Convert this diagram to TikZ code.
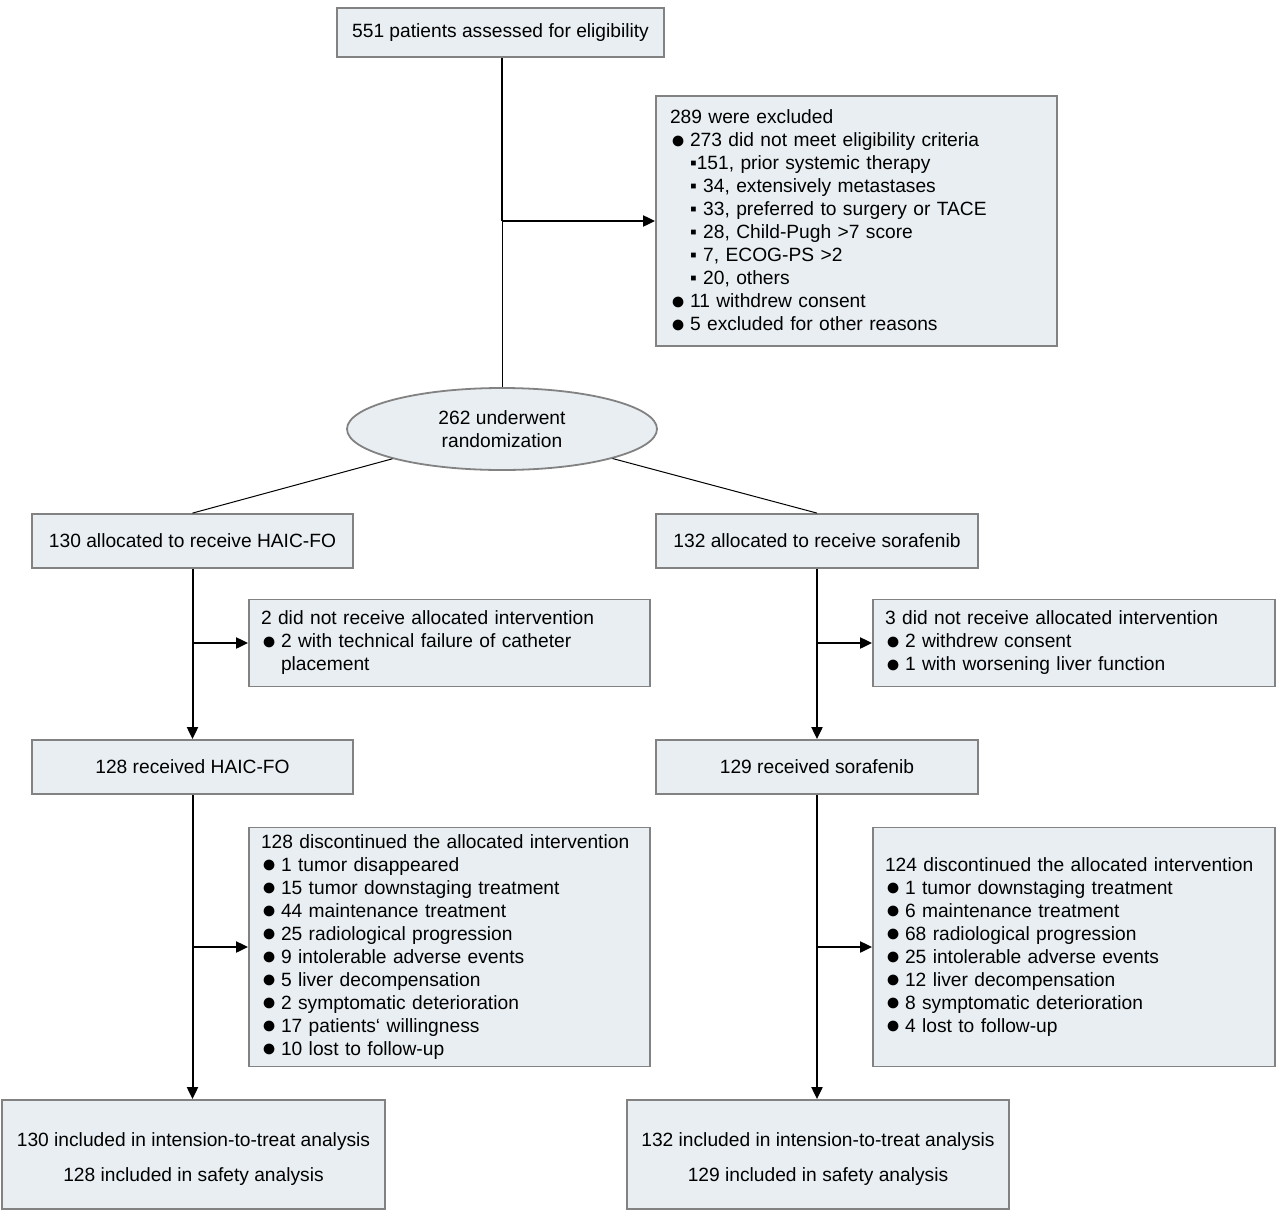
\documentclass[tikz,border=0pt]{standalone}
\usepackage{fontspec}
\setmainfont{Liberation Sans}
\usetikzlibrary{shapes.geometric,arrows.meta}
\definecolor{boxfill}{HTML}{E8EEF2}
\definecolor{boxline}{HTML}{828282}
\newcommand\bul{\makebox[20pt][l]{\hspace{0.5pt}\raisebox{-0.06em}{\scalebox{1.3}{●}}}}
\newcommand\sbul{\hspace*{20pt}▪}
\begin{document}
\begin{tikzpicture}[x=1pt,y=-1pt,
  box/.style={draw=boxline,line width=1.8pt,fill=boxfill,inner sep=0pt,
    font=\fontsize{19.2}{23}\selectfont},
  lbox/.style={box,inner xsep=12pt,align=left},
  thick arr/.style={line width=2pt,-{Triangle[length=12pt,width=11pt]}},
  thk/.style={line width=2pt},
  thn/.style={line width=1pt}]
\useasboundingbox[fill=white] (0,0) rectangle (1280,1213);

\node[box,minimum width=327pt,minimum height=49pt] (top) at (500.5,32.5) {551 patients assessed for eligibility};

\node[lbox,minimum width=401pt,minimum height=250pt,text width=373pt,inner xsep=14pt] (excl) at (856.5,221) {289 were excluded\\
\bul 273 did not meet eligibility criteria\\
\sbul 151, prior systemic therapy\\
\sbul\ 34, extensively metastases\\
\sbul\ 33, preferred to surgery or TACE\\
\sbul\ 28, Child-Pugh >7 score\\
\sbul\ 7, ECOG-PS >2\\
\sbul\ 20, others\\
\bul 11 withdrew consent\\
\bul 5 excluded for other reasons};

\node[box,ellipse,minimum width=310pt,minimum height=82pt,align=center] (ell) at (502,429) {262 underwent\\randomization};

\node[box,minimum width=321pt,minimum height=54pt] (haic) at (192.5,541) {130 allocated to receive HAIC-FO};
\node[box,minimum width=322pt,minimum height=54pt] (sora) at (817,541) {132 allocated to receive sorafenib};

\node[lbox,minimum width=401pt,minimum height=87pt,text width=377pt] (nr1) at (449.5,643) {2 did not receive allocated intervention\\
\bul 2 with technical failure of catheter\\
\hspace*{20pt}placement};
\node[lbox,minimum width=402pt,minimum height=87pt,text width=378pt] (nr2) at (1074,643) {3 did not receive allocated intervention\\
\bul 2 withdrew consent\\
\bul 1 with worsening liver function};

\node[box,minimum width=321pt,minimum height=54pt] (rec1) at (192.5,767) {128 received HAIC-FO};
\node[box,minimum width=322pt,minimum height=54pt] (rec2) at (817,767) {129 received sorafenib};

\node[lbox,minimum width=401pt,minimum height=239pt,text width=377pt] (dc1) at (449.5,947) {128 discontinued the allocated intervention\\
\bul 1 tumor disappeared\\
\bul 15 tumor downstaging treatment\\
\bul 44 maintenance treatment\\
\bul 25 radiological progression\\
\bul 9 intolerable adverse events\\
\bul 5 liver decompensation\\
\bul 2 symptomatic deterioration\\
\bul 17 patients‘ willingness\\
\bul 10 lost to follow-up};
\node[lbox,minimum width=402pt,minimum height=239pt,text width=378pt] (dc2) at (1074,947) {124 discontinued the allocated intervention\\
\bul 1 tumor downstaging treatment\\
\bul 6 maintenance treatment\\
\bul 68 radiological progression\\
\bul 25 intolerable adverse events\\
\bul 12 liver decompensation\\
\bul 8 symptomatic deterioration\\
\bul 4 lost to follow-up};

\node[box,minimum width=383pt,minimum height=109pt,align=center] (fin1) at (193.5,1154.5) {\rule{0pt}{22pt}130 included in intension-to-treat analysis\\[12pt]128 included in safety analysis};
\node[box,minimum width=382pt,minimum height=109pt,align=center] (fin2) at (818,1154.5) {\rule{0pt}{22pt}132 included in intension-to-treat analysis\\[12pt]129 included in safety analysis};

% connectors
\coordinate (j0) at (ell.north |- excl.west);
\draw[thk] (ell.north |- top.south) -- (j0);
\draw[thn] (j0) -- (ell.north);
\draw[thick arr] (j0) -- (excl.west);
\draw[thn] (ell) -- (haic.north);
\draw[thn] (ell) -- (sora.north);

\draw[thick arr] (haic.south) -- (rec1.north);
\draw[thick arr] (haic.south |- nr1.west) -- (nr1.west);
\draw[thick arr] (sora.south) -- (rec2.north);
\draw[thick arr] (sora.south |- nr2.west) -- (nr2.west);

\draw[thick arr] (rec1.south) -- (fin1.north -| rec1.south);
\draw[thick arr] (rec1.south |- dc1.west) -- (dc1.west);
\draw[thick arr] (rec2.south) -- (fin2.north -| rec2.south);
\draw[thick arr] (rec2.south |- dc2.west) -- (dc2.west);
\end{tikzpicture}
\end{document}
